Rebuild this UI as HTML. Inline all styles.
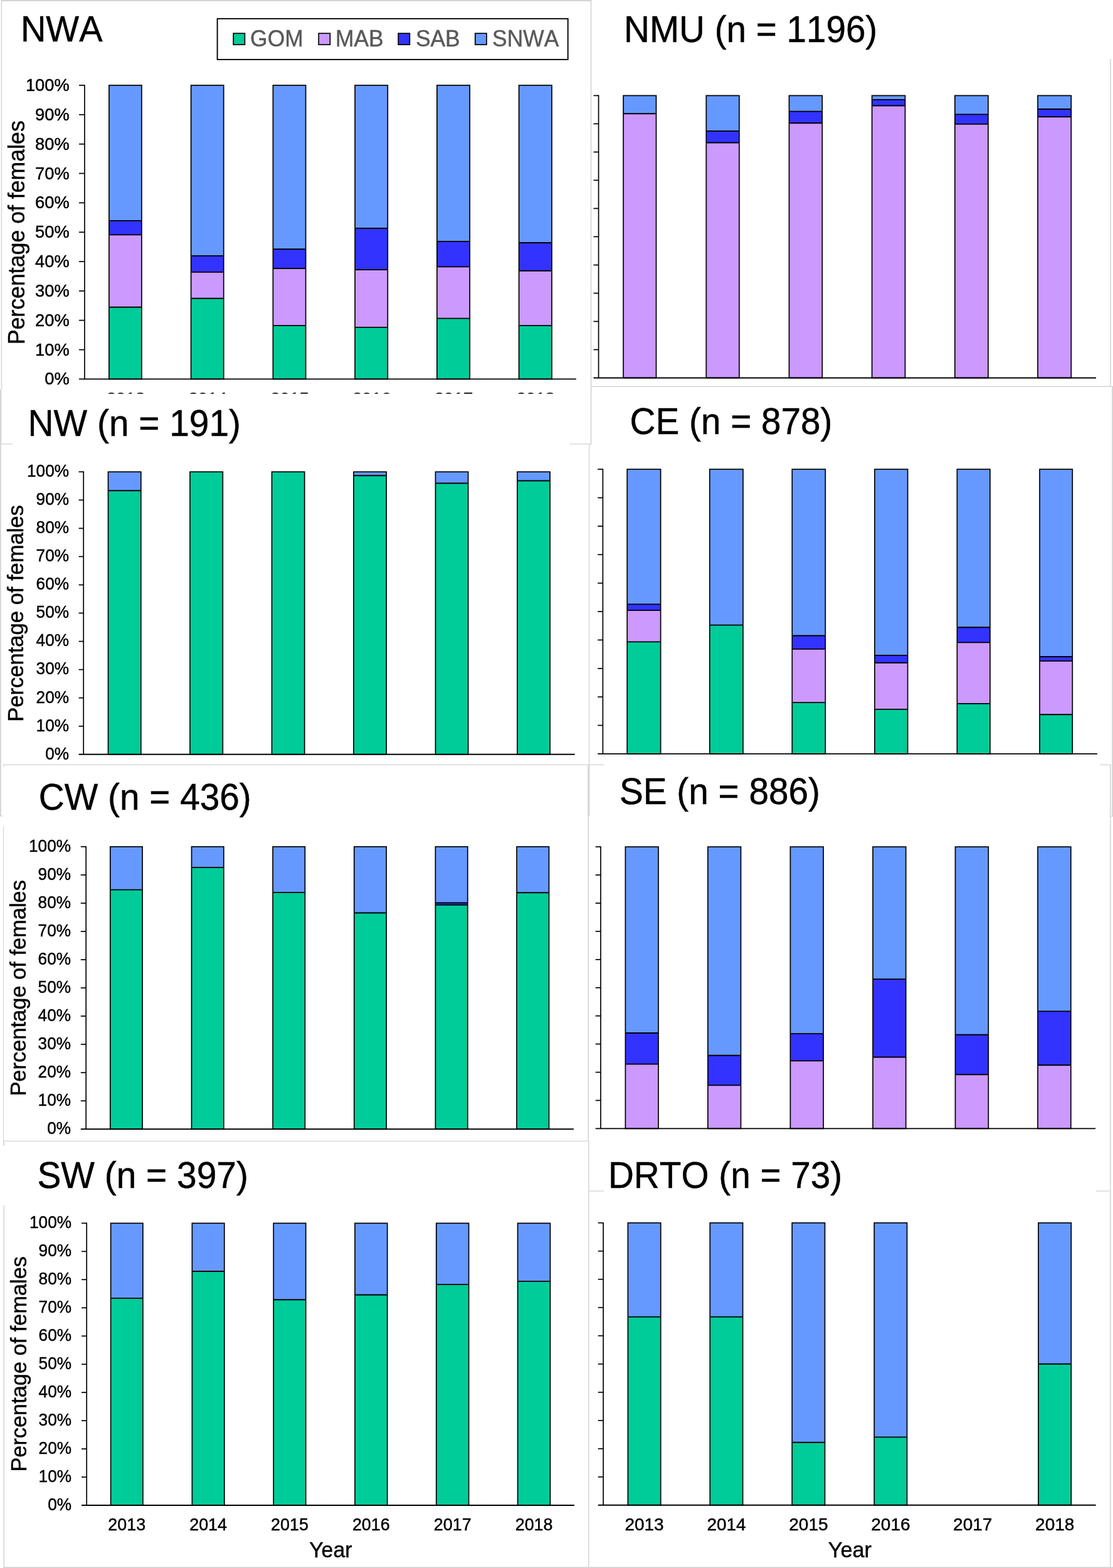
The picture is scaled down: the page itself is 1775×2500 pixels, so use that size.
<!DOCTYPE html>
<html lang="en">
<head>
<meta charset="utf-8">
<title>Percentage of females by region and year</title>
<style>
html,body{margin:0;padding:0;background:#fff;}
body{width:1775px;height:2500px;overflow:hidden;}
svg{display:block;}
text{font-family:"Liberation Sans", sans-serif;font-kerning:none;}
</style>
</head>
<body>
<svg width="1775" height="2500" viewBox="0 0 1775 2500" font-family='"Liberation Sans", sans-serif'>
<rect x="0" y="0" width="1775" height="2500" fill="#fff"/>
<line x1="1.70" y1="1.00" x2="943.40" y2="1.00" stroke="#d4d4d4" stroke-width="2.0"/>
<line x1="2.45" y1="0.50" x2="2.45" y2="621.00" stroke="#d4d4d4" stroke-width="1.5"/>
<line x1="1.15" y1="621.00" x2="1.15" y2="708.60" stroke="#d4d4d4" stroke-width="2.3"/>
<line x1="0.00" y1="708.00" x2="19.90" y2="708.00" stroke="#d4d4d4" stroke-width="1.3"/>
<line x1="942.60" y1="0.50" x2="942.60" y2="708.30" stroke="#d4d4d4" stroke-width="1.6"/>
<line x1="1771.00" y1="93.90" x2="1771.00" y2="616.30" stroke="#d4d4d4" stroke-width="1.6"/>
<line x1="942.60" y1="616.30" x2="1775.00" y2="616.30" stroke="#d4d4d4" stroke-width="1.4"/>
<line x1="1774.10" y1="616.30" x2="1774.10" y2="1301.50" stroke="#d4d4d4" stroke-width="1.8"/>
<line x1="1771.70" y1="1301.50" x2="1775.00" y2="1301.50" stroke="#d4d4d4" stroke-width="1.2"/>
<line x1="0.90" y1="708.60" x2="0.90" y2="1301.00" stroke="#d4d4d4" stroke-width="1.8"/>
<line x1="0.00" y1="1301.00" x2="4.50" y2="1301.00" stroke="#d4d4d4" stroke-width="1.2"/>
<line x1="908.40" y1="707.80" x2="943.30" y2="707.80" stroke="#d4d4d4" stroke-width="1.3"/>
<line x1="939.60" y1="707.80" x2="939.60" y2="1219.30" stroke="#d4d4d4" stroke-width="1.3"/>
<line x1="5.00" y1="1219.30" x2="963.50" y2="1219.30" stroke="#d4d4d4" stroke-width="1.3"/>
<line x1="5.60" y1="1219.30" x2="5.60" y2="1222.70" stroke="#d4d4d4" stroke-width="1.2"/>
<line x1="938.80" y1="1219.30" x2="938.80" y2="1301.70" stroke="#d4d4d4" stroke-width="3.0"/>
<line x1="938.20" y1="1301.70" x2="938.20" y2="1819.30" stroke="#d4d4d4" stroke-width="1.6"/>
<line x1="938.90" y1="1819.30" x2="938.90" y2="2499.00" stroke="#d4d4d4" stroke-width="1.5"/>
<line x1="1754.10" y1="1219.40" x2="1771.70" y2="1219.40" stroke="#d4d4d4" stroke-width="1.3"/>
<line x1="1770.90" y1="1219.40" x2="1770.90" y2="2499.00" stroke="#d4d4d4" stroke-width="1.6"/>
<line x1="5.55" y1="1317.60" x2="5.55" y2="1819.30" stroke="#d4d4d4" stroke-width="1.2"/>
<line x1="5.90" y1="1819.30" x2="5.90" y2="1826.40" stroke="#d4d4d4" stroke-width="1.8"/>
<line x1="5.00" y1="1819.30" x2="939.60" y2="1819.30" stroke="#d4d4d4" stroke-width="1.3"/>
<line x1="6.25" y1="1921.60" x2="6.25" y2="2499.00" stroke="#d4d4d4" stroke-width="1.5"/>
<line x1="5.50" y1="2499.20" x2="1775.00" y2="2499.20" stroke="#d4d4d4" stroke-width="1.7"/>
<line x1="938.90" y1="1899.00" x2="963.30" y2="1899.00" stroke="#d4d4d4" stroke-width="1.3"/>
<line x1="1748.00" y1="1899.00" x2="1771.60" y2="1899.00" stroke="#d4d4d4" stroke-width="1.3"/>
<clipPath id="c1"><rect x="0" y="620" width="943" height="8.0"/></clipPath>
<g clip-path="url(#c1)" opacity="0.8">
<text transform="translate(200.5,645.4) scale(1,1.02)" font-size="27.7" text-anchor="middle" fill="#000" stroke="#000" stroke-width="0.45">2013</text>
<text transform="translate(331.2,645.4) scale(1,1.02)" font-size="27.7" text-anchor="middle" fill="#000" stroke="#000" stroke-width="0.45">2014</text>
<text transform="translate(462.0,645.4) scale(1,1.02)" font-size="27.7" text-anchor="middle" fill="#000" stroke="#000" stroke-width="0.45">2015</text>
<text transform="translate(592.7,645.4) scale(1,1.02)" font-size="27.7" text-anchor="middle" fill="#000" stroke="#000" stroke-width="0.45">2016</text>
<text transform="translate(723.5,645.4) scale(1,1.02)" font-size="27.7" text-anchor="middle" fill="#000" stroke="#000" stroke-width="0.45">2017</text>
<text transform="translate(854.2,645.4) scale(1,1.02)" font-size="27.7" text-anchor="middle" fill="#000" stroke="#000" stroke-width="0.45">2018</text>
</g>
<g>
<rect x="173.9" y="489.7" width="52.0" height="114.7" fill="#00cc99"/>
<rect x="173.9" y="374.4" width="52.0" height="115.3" fill="#cc99ff"/>
<rect x="173.9" y="351.8" width="52.0" height="22.6" fill="#3333ff"/>
<rect x="173.9" y="136.0" width="52.0" height="215.8" fill="#6699ff"/>
<line x1="174.8" y1="489.7" x2="225.1" y2="489.7" stroke="#000" stroke-width="1.85"/>
<line x1="174.8" y1="374.4" x2="225.1" y2="374.4" stroke="#000" stroke-width="1.85"/>
<line x1="174.8" y1="351.8" x2="225.1" y2="351.8" stroke="#000" stroke-width="1.85"/>
<rect x="173.9" y="136.0" width="52.0" height="468.4" fill="none" stroke="#000" stroke-width="1.7"/>
<rect x="304.6" y="475.7" width="52.1" height="128.7" fill="#00cc99"/>
<rect x="304.6" y="433.8" width="52.1" height="41.9" fill="#cc99ff"/>
<rect x="304.6" y="407.9" width="52.1" height="25.9" fill="#3333ff"/>
<rect x="304.6" y="136.0" width="52.1" height="271.9" fill="#6699ff"/>
<line x1="305.5" y1="475.7" x2="355.8" y2="475.7" stroke="#000" stroke-width="1.85"/>
<line x1="305.5" y1="433.8" x2="355.8" y2="433.8" stroke="#000" stroke-width="1.85"/>
<line x1="305.5" y1="407.9" x2="355.8" y2="407.9" stroke="#000" stroke-width="1.85"/>
<rect x="304.6" y="136.0" width="52.1" height="468.4" fill="none" stroke="#000" stroke-width="1.7"/>
<rect x="435.4" y="519.1" width="52.2" height="85.3" fill="#00cc99"/>
<rect x="435.4" y="428.0" width="52.2" height="91.1" fill="#cc99ff"/>
<rect x="435.4" y="397.2" width="52.2" height="30.8" fill="#3333ff"/>
<rect x="435.4" y="136.0" width="52.2" height="261.2" fill="#6699ff"/>
<line x1="436.2" y1="519.1" x2="486.7" y2="519.1" stroke="#000" stroke-width="1.85"/>
<line x1="436.2" y1="428.0" x2="486.7" y2="428.0" stroke="#000" stroke-width="1.85"/>
<line x1="436.2" y1="397.2" x2="486.7" y2="397.2" stroke="#000" stroke-width="1.85"/>
<rect x="435.4" y="136.0" width="52.2" height="468.4" fill="none" stroke="#000" stroke-width="1.7"/>
<rect x="566.1" y="521.8" width="52.2" height="82.6" fill="#00cc99"/>
<rect x="566.1" y="430.0" width="52.2" height="91.8" fill="#cc99ff"/>
<rect x="566.1" y="364.0" width="52.2" height="66.0" fill="#3333ff"/>
<rect x="566.1" y="136.0" width="52.2" height="228.0" fill="#6699ff"/>
<line x1="567.0" y1="521.8" x2="617.5" y2="521.8" stroke="#000" stroke-width="1.85"/>
<line x1="567.0" y1="430.0" x2="617.5" y2="430.0" stroke="#000" stroke-width="1.85"/>
<line x1="567.0" y1="364.0" x2="617.5" y2="364.0" stroke="#000" stroke-width="1.85"/>
<rect x="566.1" y="136.0" width="52.2" height="468.4" fill="none" stroke="#000" stroke-width="1.7"/>
<rect x="696.9" y="507.6" width="52.3" height="96.8" fill="#00cc99"/>
<rect x="696.9" y="425.3" width="52.3" height="82.3" fill="#cc99ff"/>
<rect x="696.9" y="385.0" width="52.3" height="40.3" fill="#3333ff"/>
<rect x="696.9" y="136.0" width="52.3" height="249.0" fill="#6699ff"/>
<line x1="697.8" y1="507.6" x2="748.4" y2="507.6" stroke="#000" stroke-width="1.85"/>
<line x1="697.8" y1="425.3" x2="748.4" y2="425.3" stroke="#000" stroke-width="1.85"/>
<line x1="697.8" y1="385.0" x2="748.4" y2="385.0" stroke="#000" stroke-width="1.85"/>
<rect x="696.9" y="136.0" width="52.3" height="468.4" fill="none" stroke="#000" stroke-width="1.7"/>
<rect x="827.6" y="519.1" width="52.4" height="85.3" fill="#00cc99"/>
<rect x="827.6" y="431.7" width="52.4" height="87.4" fill="#cc99ff"/>
<rect x="827.6" y="387.0" width="52.4" height="44.7" fill="#3333ff"/>
<rect x="827.6" y="136.0" width="52.4" height="251.0" fill="#6699ff"/>
<line x1="828.5" y1="519.1" x2="879.1" y2="519.1" stroke="#000" stroke-width="1.85"/>
<line x1="828.5" y1="431.7" x2="879.1" y2="431.7" stroke="#000" stroke-width="1.85"/>
<line x1="828.5" y1="387.0" x2="879.1" y2="387.0" stroke="#000" stroke-width="1.85"/>
<rect x="827.6" y="136.0" width="52.4" height="468.4" fill="none" stroke="#000" stroke-width="1.7"/>
<line x1="134.9" y1="135.2" x2="134.9" y2="604.4" stroke="#000" stroke-width="1.7"/>
<line x1="126.0" y1="604.4" x2="918.9" y2="604.4" stroke="#000" stroke-width="1.9"/>
<text transform="translate(110.7,613.4) scale(1,1.02)" font-size="27.3" text-anchor="end" fill="#000" stroke="#000" stroke-width="0.45">0%</text>
<line x1="126.0" y1="557.6" x2="134.9" y2="557.6" stroke="#000" stroke-width="1.7"/>
<text transform="translate(110.7,566.6) scale(1,1.02)" font-size="27.3" text-anchor="end" fill="#000" stroke="#000" stroke-width="0.45">10%</text>
<line x1="126.0" y1="510.7" x2="134.9" y2="510.7" stroke="#000" stroke-width="1.7"/>
<text transform="translate(110.7,519.7) scale(1,1.02)" font-size="27.3" text-anchor="end" fill="#000" stroke="#000" stroke-width="0.45">20%</text>
<line x1="126.0" y1="463.9" x2="134.9" y2="463.9" stroke="#000" stroke-width="1.7"/>
<text transform="translate(110.7,472.9) scale(1,1.02)" font-size="27.3" text-anchor="end" fill="#000" stroke="#000" stroke-width="0.45">30%</text>
<line x1="126.0" y1="417.0" x2="134.9" y2="417.0" stroke="#000" stroke-width="1.7"/>
<text transform="translate(110.7,426.0) scale(1,1.02)" font-size="27.3" text-anchor="end" fill="#000" stroke="#000" stroke-width="0.45">40%</text>
<line x1="126.0" y1="370.2" x2="134.9" y2="370.2" stroke="#000" stroke-width="1.7"/>
<text transform="translate(110.7,379.2) scale(1,1.02)" font-size="27.3" text-anchor="end" fill="#000" stroke="#000" stroke-width="0.45">50%</text>
<line x1="126.0" y1="323.4" x2="134.9" y2="323.4" stroke="#000" stroke-width="1.7"/>
<text transform="translate(110.7,332.4) scale(1,1.02)" font-size="27.3" text-anchor="end" fill="#000" stroke="#000" stroke-width="0.45">60%</text>
<line x1="126.0" y1="276.5" x2="134.9" y2="276.5" stroke="#000" stroke-width="1.7"/>
<text transform="translate(110.7,285.5) scale(1,1.02)" font-size="27.3" text-anchor="end" fill="#000" stroke="#000" stroke-width="0.45">70%</text>
<line x1="126.0" y1="229.7" x2="134.9" y2="229.7" stroke="#000" stroke-width="1.7"/>
<text transform="translate(110.7,238.7) scale(1,1.02)" font-size="27.3" text-anchor="end" fill="#000" stroke="#000" stroke-width="0.45">80%</text>
<line x1="126.0" y1="182.8" x2="134.9" y2="182.8" stroke="#000" stroke-width="1.7"/>
<text transform="translate(110.7,191.8) scale(1,1.02)" font-size="27.3" text-anchor="end" fill="#000" stroke="#000" stroke-width="0.45">90%</text>
<line x1="126.0" y1="136.0" x2="134.9" y2="136.0" stroke="#000" stroke-width="1.7"/>
<text transform="translate(110.7,145.0) scale(1,1.02)" font-size="27.3" text-anchor="end" fill="#000" stroke="#000" stroke-width="0.45">100%</text>
<text transform="translate(39.2,549.3) rotate(-90) scale(1,1.02)" font-size="35.7" text-anchor="start" fill="#000" stroke="#000" stroke-width="0.45">Percentage of females</text>
<text transform="translate(32.9,66.2) scale(1,1.036)" font-size="56.0" text-anchor="start" fill="#000" stroke="#000" stroke-width="0.45">NWA</text>
</g>
<g>
<rect x="994.1" y="181.2" width="52.4" height="421.3" fill="#cc99ff"/>
<rect x="994.1" y="152.4" width="52.4" height="28.8" fill="#6699ff"/>
<line x1="995.0" y1="181.2" x2="1045.7" y2="181.2" stroke="#000" stroke-width="1.85"/>
<rect x="994.1" y="152.4" width="52.4" height="450.1" fill="none" stroke="#000" stroke-width="1.7"/>
<rect x="1126.3" y="227.5" width="52.6" height="375.0" fill="#cc99ff"/>
<rect x="1126.3" y="208.9" width="52.6" height="18.6" fill="#3333ff"/>
<rect x="1126.3" y="152.4" width="52.6" height="56.5" fill="#6699ff"/>
<line x1="1127.1" y1="227.5" x2="1178.0" y2="227.5" stroke="#000" stroke-width="1.85"/>
<line x1="1127.1" y1="208.9" x2="1178.0" y2="208.9" stroke="#000" stroke-width="1.85"/>
<rect x="1126.3" y="152.4" width="52.6" height="450.1" fill="none" stroke="#000" stroke-width="1.7"/>
<rect x="1258.5" y="196.2" width="52.8" height="406.3" fill="#cc99ff"/>
<rect x="1258.5" y="177.6" width="52.8" height="18.6" fill="#3333ff"/>
<rect x="1258.5" y="152.4" width="52.8" height="25.2" fill="#6699ff"/>
<line x1="1259.3" y1="196.2" x2="1310.4" y2="196.2" stroke="#000" stroke-width="1.85"/>
<line x1="1259.3" y1="177.6" x2="1310.4" y2="177.6" stroke="#000" stroke-width="1.85"/>
<rect x="1258.5" y="152.4" width="52.8" height="450.1" fill="none" stroke="#000" stroke-width="1.7"/>
<rect x="1390.6" y="168.5" width="52.9" height="434.0" fill="#cc99ff"/>
<rect x="1390.6" y="158.8" width="52.9" height="9.7" fill="#3333ff"/>
<rect x="1390.6" y="152.4" width="52.9" height="6.4" fill="#6699ff"/>
<line x1="1391.4" y1="168.5" x2="1442.7" y2="168.5" stroke="#000" stroke-width="1.85"/>
<line x1="1391.4" y1="158.8" x2="1442.7" y2="158.8" stroke="#000" stroke-width="1.85"/>
<rect x="1390.6" y="152.4" width="52.9" height="450.1" fill="none" stroke="#000" stroke-width="1.7"/>
<rect x="1522.8" y="197.9" width="53.1" height="404.6" fill="#cc99ff"/>
<rect x="1522.8" y="182.3" width="53.1" height="15.6" fill="#3333ff"/>
<rect x="1522.8" y="152.4" width="53.1" height="29.9" fill="#6699ff"/>
<line x1="1523.6" y1="197.9" x2="1575.1" y2="197.9" stroke="#000" stroke-width="1.85"/>
<line x1="1523.6" y1="182.3" x2="1575.1" y2="182.3" stroke="#000" stroke-width="1.85"/>
<rect x="1522.8" y="152.4" width="53.1" height="450.1" fill="none" stroke="#000" stroke-width="1.7"/>
<rect x="1655.0" y="186.2" width="53.3" height="416.3" fill="#cc99ff"/>
<rect x="1655.0" y="174.0" width="53.3" height="12.2" fill="#3333ff"/>
<rect x="1655.0" y="152.4" width="53.3" height="21.6" fill="#6699ff"/>
<line x1="1655.8" y1="186.2" x2="1707.5" y2="186.2" stroke="#000" stroke-width="1.85"/>
<line x1="1655.8" y1="174.0" x2="1707.5" y2="174.0" stroke="#000" stroke-width="1.85"/>
<rect x="1655.0" y="152.4" width="53.3" height="450.1" fill="none" stroke="#000" stroke-width="1.7"/>
<line x1="954.6" y1="151.6" x2="954.6" y2="602.5" stroke="#000" stroke-width="1.7"/>
<line x1="946.5" y1="602.5" x2="1748.0" y2="602.5" stroke="#000" stroke-width="1.9"/>
<line x1="946.5" y1="557.5" x2="954.6" y2="557.5" stroke="#000" stroke-width="1.7"/>
<line x1="946.5" y1="512.5" x2="954.6" y2="512.5" stroke="#000" stroke-width="1.7"/>
<line x1="946.5" y1="467.5" x2="954.6" y2="467.5" stroke="#000" stroke-width="1.7"/>
<line x1="946.5" y1="422.5" x2="954.6" y2="422.5" stroke="#000" stroke-width="1.7"/>
<line x1="946.5" y1="377.4" x2="954.6" y2="377.4" stroke="#000" stroke-width="1.7"/>
<line x1="946.5" y1="332.4" x2="954.6" y2="332.4" stroke="#000" stroke-width="1.7"/>
<line x1="946.5" y1="287.4" x2="954.6" y2="287.4" stroke="#000" stroke-width="1.7"/>
<line x1="946.5" y1="242.4" x2="954.6" y2="242.4" stroke="#000" stroke-width="1.7"/>
<line x1="946.5" y1="197.4" x2="954.6" y2="197.4" stroke="#000" stroke-width="1.7"/>
<line x1="946.5" y1="152.4" x2="954.6" y2="152.4" stroke="#000" stroke-width="1.7"/>
<text transform="translate(995.1,67.0) scale(1,1.036)" font-size="56.6" text-anchor="start" fill="#000" stroke="#000" stroke-width="0.45">NMU (n = 1196)</text>
</g>
<g>
<rect x="172.5" y="782.2" width="52.3" height="420.6" fill="#00cc99"/>
<rect x="172.5" y="752.3" width="52.3" height="29.9" fill="#6699ff"/>
<line x1="173.3" y1="782.2" x2="224.0" y2="782.2" stroke="#000" stroke-width="1.85"/>
<rect x="172.5" y="752.3" width="52.3" height="450.5" fill="none" stroke="#000" stroke-width="1.7"/>
<rect x="303.0" y="752.3" width="52.3" height="450.5" fill="#00cc99"/>
<rect x="303.0" y="752.3" width="52.3" height="450.5" fill="none" stroke="#000" stroke-width="1.7"/>
<rect x="433.5" y="752.3" width="52.2" height="450.5" fill="#00cc99"/>
<rect x="433.5" y="752.3" width="52.2" height="450.5" fill="none" stroke="#000" stroke-width="1.7"/>
<rect x="564.0" y="758.2" width="52.2" height="444.6" fill="#00cc99"/>
<rect x="564.0" y="752.3" width="52.2" height="5.9" fill="#6699ff"/>
<line x1="564.9" y1="758.2" x2="615.3" y2="758.2" stroke="#000" stroke-width="1.85"/>
<rect x="564.0" y="752.3" width="52.2" height="450.5" fill="none" stroke="#000" stroke-width="1.7"/>
<rect x="694.5" y="770.5" width="52.1" height="432.3" fill="#00cc99"/>
<rect x="694.5" y="752.3" width="52.1" height="18.2" fill="#6699ff"/>
<line x1="695.4" y1="770.5" x2="745.8" y2="770.5" stroke="#000" stroke-width="1.85"/>
<rect x="694.5" y="752.3" width="52.1" height="450.5" fill="none" stroke="#000" stroke-width="1.7"/>
<rect x="825.0" y="766.5" width="52.1" height="436.3" fill="#00cc99"/>
<rect x="825.0" y="752.3" width="52.1" height="14.2" fill="#6699ff"/>
<line x1="825.9" y1="766.5" x2="876.2" y2="766.5" stroke="#000" stroke-width="1.85"/>
<rect x="825.0" y="752.3" width="52.1" height="450.5" fill="none" stroke="#000" stroke-width="1.7"/>
<line x1="133.2" y1="751.5" x2="133.2" y2="1202.8" stroke="#000" stroke-width="1.7"/>
<line x1="125.6" y1="1202.8" x2="916.7" y2="1202.8" stroke="#000" stroke-width="1.9"/>
<text transform="translate(110.0,1210.6) scale(1,1.02)" font-size="26.2" text-anchor="end" fill="#000" stroke="#000" stroke-width="0.45">0%</text>
<line x1="125.6" y1="1157.8" x2="133.2" y2="1157.8" stroke="#000" stroke-width="1.7"/>
<text transform="translate(110.0,1165.5) scale(1,1.02)" font-size="26.2" text-anchor="end" fill="#000" stroke="#000" stroke-width="0.45">10%</text>
<line x1="125.6" y1="1112.7" x2="133.2" y2="1112.7" stroke="#000" stroke-width="1.7"/>
<text transform="translate(110.0,1120.5) scale(1,1.02)" font-size="26.2" text-anchor="end" fill="#000" stroke="#000" stroke-width="0.45">20%</text>
<line x1="125.6" y1="1067.6" x2="133.2" y2="1067.6" stroke="#000" stroke-width="1.7"/>
<text transform="translate(110.0,1075.4) scale(1,1.02)" font-size="26.2" text-anchor="end" fill="#000" stroke="#000" stroke-width="0.45">30%</text>
<line x1="125.6" y1="1022.6" x2="133.2" y2="1022.6" stroke="#000" stroke-width="1.7"/>
<text transform="translate(110.0,1030.4) scale(1,1.02)" font-size="26.2" text-anchor="end" fill="#000" stroke="#000" stroke-width="0.45">40%</text>
<line x1="125.6" y1="977.5" x2="133.2" y2="977.5" stroke="#000" stroke-width="1.7"/>
<text transform="translate(110.0,985.3) scale(1,1.02)" font-size="26.2" text-anchor="end" fill="#000" stroke="#000" stroke-width="0.45">50%</text>
<line x1="125.6" y1="932.5" x2="133.2" y2="932.5" stroke="#000" stroke-width="1.7"/>
<text transform="translate(110.0,940.3) scale(1,1.02)" font-size="26.2" text-anchor="end" fill="#000" stroke="#000" stroke-width="0.45">60%</text>
<line x1="125.6" y1="887.4" x2="133.2" y2="887.4" stroke="#000" stroke-width="1.7"/>
<text transform="translate(110.0,895.2) scale(1,1.02)" font-size="26.2" text-anchor="end" fill="#000" stroke="#000" stroke-width="0.45">70%</text>
<line x1="125.6" y1="842.4" x2="133.2" y2="842.4" stroke="#000" stroke-width="1.7"/>
<text transform="translate(110.0,850.2) scale(1,1.02)" font-size="26.2" text-anchor="end" fill="#000" stroke="#000" stroke-width="0.45">80%</text>
<line x1="125.6" y1="797.3" x2="133.2" y2="797.3" stroke="#000" stroke-width="1.7"/>
<text transform="translate(110.0,805.1) scale(1,1.02)" font-size="26.2" text-anchor="end" fill="#000" stroke="#000" stroke-width="0.45">90%</text>
<line x1="125.6" y1="752.3" x2="133.2" y2="752.3" stroke="#000" stroke-width="1.7"/>
<text transform="translate(110.0,760.1) scale(1,1.02)" font-size="26.2" text-anchor="end" fill="#000" stroke="#000" stroke-width="0.45">100%</text>
<text transform="translate(37.2,1150.7) rotate(-90) scale(1,1.02)" font-size="34.55" text-anchor="start" fill="#000" stroke="#000" stroke-width="0.45">Percentage of females</text>
<text transform="translate(44.6,695.0) scale(1,1.036)" font-size="56.8" text-anchor="start" fill="#000" stroke="#000" stroke-width="0.45">NW (n = 191)</text>
</g>
<g>
<rect x="1000.2" y="1023.3" width="53.4" height="178.6" fill="#00cc99"/>
<rect x="1000.2" y="973.1" width="53.4" height="50.2" fill="#cc99ff"/>
<rect x="1000.2" y="963.4" width="53.4" height="9.7" fill="#3333ff"/>
<rect x="1000.2" y="748.2" width="53.4" height="215.2" fill="#6699ff"/>
<line x1="1001.1" y1="1023.3" x2="1052.8" y2="1023.3" stroke="#000" stroke-width="1.85"/>
<line x1="1001.1" y1="973.1" x2="1052.8" y2="973.1" stroke="#000" stroke-width="1.85"/>
<line x1="1001.1" y1="963.4" x2="1052.8" y2="963.4" stroke="#000" stroke-width="1.85"/>
<rect x="1000.2" y="748.2" width="53.4" height="453.7" fill="none" stroke="#000" stroke-width="1.7"/>
<rect x="1131.8" y="996.6" width="53.2" height="205.3" fill="#00cc99"/>
<rect x="1131.8" y="748.2" width="53.2" height="248.4" fill="#6699ff"/>
<line x1="1132.6" y1="996.6" x2="1184.1" y2="996.6" stroke="#000" stroke-width="1.85"/>
<rect x="1131.8" y="748.2" width="53.2" height="453.7" fill="none" stroke="#000" stroke-width="1.7"/>
<rect x="1263.3" y="1120.1" width="53.0" height="81.8" fill="#00cc99"/>
<rect x="1263.3" y="1034.8" width="53.0" height="85.3" fill="#cc99ff"/>
<rect x="1263.3" y="1013.5" width="53.0" height="21.3" fill="#3333ff"/>
<rect x="1263.3" y="748.2" width="53.0" height="265.3" fill="#6699ff"/>
<line x1="1264.1" y1="1120.1" x2="1315.4" y2="1120.1" stroke="#000" stroke-width="1.85"/>
<line x1="1264.1" y1="1034.8" x2="1315.4" y2="1034.8" stroke="#000" stroke-width="1.85"/>
<line x1="1264.1" y1="1013.5" x2="1315.4" y2="1013.5" stroke="#000" stroke-width="1.85"/>
<rect x="1263.3" y="748.2" width="53.0" height="453.7" fill="none" stroke="#000" stroke-width="1.7"/>
<rect x="1394.9" y="1130.9" width="52.7" height="71.0" fill="#00cc99"/>
<rect x="1394.9" y="1056.7" width="52.7" height="74.2" fill="#cc99ff"/>
<rect x="1394.9" y="1044.8" width="52.7" height="11.9" fill="#3333ff"/>
<rect x="1394.9" y="748.2" width="52.7" height="296.6" fill="#6699ff"/>
<line x1="1395.8" y1="1130.9" x2="1446.8" y2="1130.9" stroke="#000" stroke-width="1.85"/>
<line x1="1395.8" y1="1056.7" x2="1446.8" y2="1056.7" stroke="#000" stroke-width="1.85"/>
<line x1="1395.8" y1="1044.8" x2="1446.8" y2="1044.8" stroke="#000" stroke-width="1.85"/>
<rect x="1394.9" y="748.2" width="52.7" height="453.7" fill="none" stroke="#000" stroke-width="1.7"/>
<rect x="1526.4" y="1121.8" width="52.5" height="80.1" fill="#00cc99"/>
<rect x="1526.4" y="1024.3" width="52.5" height="97.5" fill="#cc99ff"/>
<rect x="1526.4" y="1000.2" width="52.5" height="24.1" fill="#3333ff"/>
<rect x="1526.4" y="748.2" width="52.5" height="252.0" fill="#6699ff"/>
<line x1="1527.2" y1="1121.8" x2="1578.1" y2="1121.8" stroke="#000" stroke-width="1.85"/>
<line x1="1527.2" y1="1024.3" x2="1578.1" y2="1024.3" stroke="#000" stroke-width="1.85"/>
<line x1="1527.2" y1="1000.2" x2="1578.1" y2="1000.2" stroke="#000" stroke-width="1.85"/>
<rect x="1526.4" y="748.2" width="52.5" height="453.7" fill="none" stroke="#000" stroke-width="1.7"/>
<rect x="1658.0" y="1139.2" width="52.3" height="62.7" fill="#00cc99"/>
<rect x="1658.0" y="1053.9" width="52.3" height="85.3" fill="#cc99ff"/>
<rect x="1658.0" y="1047.0" width="52.3" height="6.9" fill="#3333ff"/>
<rect x="1658.0" y="748.2" width="52.3" height="298.8" fill="#6699ff"/>
<line x1="1658.8" y1="1139.2" x2="1709.5" y2="1139.2" stroke="#000" stroke-width="1.85"/>
<line x1="1658.8" y1="1053.9" x2="1709.5" y2="1053.9" stroke="#000" stroke-width="1.85"/>
<line x1="1658.8" y1="1047.0" x2="1709.5" y2="1047.0" stroke="#000" stroke-width="1.85"/>
<rect x="1658.0" y="748.2" width="52.3" height="453.7" fill="none" stroke="#000" stroke-width="1.7"/>
<line x1="961.4" y1="747.4" x2="961.4" y2="1201.9" stroke="#000" stroke-width="1.7"/>
<line x1="953.2" y1="1201.9" x2="1749.9" y2="1201.9" stroke="#000" stroke-width="1.9"/>
<line x1="953.2" y1="1156.5" x2="961.4" y2="1156.5" stroke="#000" stroke-width="1.7"/>
<line x1="953.2" y1="1111.2" x2="961.4" y2="1111.2" stroke="#000" stroke-width="1.7"/>
<line x1="953.2" y1="1065.8" x2="961.4" y2="1065.8" stroke="#000" stroke-width="1.7"/>
<line x1="953.2" y1="1020.4" x2="961.4" y2="1020.4" stroke="#000" stroke-width="1.7"/>
<line x1="953.2" y1="975.1" x2="961.4" y2="975.1" stroke="#000" stroke-width="1.7"/>
<line x1="953.2" y1="929.7" x2="961.4" y2="929.7" stroke="#000" stroke-width="1.7"/>
<line x1="953.2" y1="884.3" x2="961.4" y2="884.3" stroke="#000" stroke-width="1.7"/>
<line x1="953.2" y1="838.9" x2="961.4" y2="838.9" stroke="#000" stroke-width="1.7"/>
<line x1="953.2" y1="793.6" x2="961.4" y2="793.6" stroke="#000" stroke-width="1.7"/>
<line x1="953.2" y1="748.2" x2="961.4" y2="748.2" stroke="#000" stroke-width="1.7"/>
<text transform="translate(1004.5,692.4) scale(1,1.036)" font-size="56.7" text-anchor="start" fill="#000" stroke="#000" stroke-width="0.45">CE (n = 878)</text>
</g>
<g>
<rect x="175.8" y="1418.6" width="51.3" height="381.6" fill="#00cc99"/>
<rect x="175.8" y="1350.0" width="51.3" height="68.6" fill="#6699ff"/>
<line x1="176.7" y1="1418.6" x2="226.3" y2="1418.6" stroke="#000" stroke-width="1.85"/>
<rect x="175.8" y="1350.0" width="51.3" height="450.2" fill="none" stroke="#000" stroke-width="1.7"/>
<rect x="305.5" y="1383.1" width="51.3" height="417.1" fill="#00cc99"/>
<rect x="305.5" y="1350.0" width="51.3" height="33.1" fill="#6699ff"/>
<line x1="306.4" y1="1383.1" x2="356.0" y2="1383.1" stroke="#000" stroke-width="1.85"/>
<rect x="305.5" y="1350.0" width="51.3" height="450.2" fill="none" stroke="#000" stroke-width="1.7"/>
<rect x="435.1" y="1422.8" width="51.3" height="377.4" fill="#00cc99"/>
<rect x="435.1" y="1350.0" width="51.3" height="72.8" fill="#6699ff"/>
<line x1="436.0" y1="1422.8" x2="485.6" y2="1422.8" stroke="#000" stroke-width="1.85"/>
<rect x="435.1" y="1350.0" width="51.3" height="450.2" fill="none" stroke="#000" stroke-width="1.7"/>
<rect x="564.8" y="1455.5" width="51.4" height="344.7" fill="#00cc99"/>
<rect x="564.8" y="1350.0" width="51.4" height="105.5" fill="#6699ff"/>
<line x1="565.6" y1="1455.5" x2="615.3" y2="1455.5" stroke="#000" stroke-width="1.85"/>
<rect x="564.8" y="1350.0" width="51.4" height="450.2" fill="none" stroke="#000" stroke-width="1.7"/>
<rect x="694.4" y="1442.9" width="51.4" height="357.3" fill="#00cc99"/>
<rect x="694.4" y="1439.5" width="51.4" height="3.4" fill="#3333ff"/>
<rect x="694.4" y="1350.0" width="51.4" height="89.5" fill="#6699ff"/>
<line x1="695.2" y1="1442.9" x2="744.9" y2="1442.9" stroke="#000" stroke-width="1.85"/>
<line x1="695.2" y1="1439.5" x2="744.9" y2="1439.5" stroke="#000" stroke-width="1.85"/>
<rect x="694.4" y="1350.0" width="51.4" height="450.2" fill="none" stroke="#000" stroke-width="1.7"/>
<rect x="824.1" y="1423.2" width="51.4" height="377.0" fill="#00cc99"/>
<rect x="824.1" y="1350.0" width="51.4" height="73.2" fill="#6699ff"/>
<line x1="825.0" y1="1423.2" x2="874.6" y2="1423.2" stroke="#000" stroke-width="1.85"/>
<rect x="824.1" y="1350.0" width="51.4" height="450.2" fill="none" stroke="#000" stroke-width="1.7"/>
<line x1="137.2" y1="1349.2" x2="137.2" y2="1800.2" stroke="#000" stroke-width="1.7"/>
<line x1="128.8" y1="1800.2" x2="914.9" y2="1800.2" stroke="#000" stroke-width="1.9"/>
<text transform="translate(113.0,1808.0) scale(1,1.02)" font-size="26.2" text-anchor="end" fill="#000" stroke="#000" stroke-width="0.45">0%</text>
<line x1="128.8" y1="1755.2" x2="137.2" y2="1755.2" stroke="#000" stroke-width="1.7"/>
<text transform="translate(113.0,1763.0) scale(1,1.02)" font-size="26.2" text-anchor="end" fill="#000" stroke="#000" stroke-width="0.45">10%</text>
<line x1="128.8" y1="1710.2" x2="137.2" y2="1710.2" stroke="#000" stroke-width="1.7"/>
<text transform="translate(113.0,1718.0) scale(1,1.02)" font-size="26.2" text-anchor="end" fill="#000" stroke="#000" stroke-width="0.45">20%</text>
<line x1="128.8" y1="1665.1" x2="137.2" y2="1665.1" stroke="#000" stroke-width="1.7"/>
<text transform="translate(113.0,1672.9) scale(1,1.02)" font-size="26.2" text-anchor="end" fill="#000" stroke="#000" stroke-width="0.45">30%</text>
<line x1="128.8" y1="1620.1" x2="137.2" y2="1620.1" stroke="#000" stroke-width="1.7"/>
<text transform="translate(113.0,1627.9) scale(1,1.02)" font-size="26.2" text-anchor="end" fill="#000" stroke="#000" stroke-width="0.45">40%</text>
<line x1="128.8" y1="1575.1" x2="137.2" y2="1575.1" stroke="#000" stroke-width="1.7"/>
<text transform="translate(113.0,1582.9) scale(1,1.02)" font-size="26.2" text-anchor="end" fill="#000" stroke="#000" stroke-width="0.45">50%</text>
<line x1="128.8" y1="1530.1" x2="137.2" y2="1530.1" stroke="#000" stroke-width="1.7"/>
<text transform="translate(113.0,1537.9) scale(1,1.02)" font-size="26.2" text-anchor="end" fill="#000" stroke="#000" stroke-width="0.45">60%</text>
<line x1="128.8" y1="1485.1" x2="137.2" y2="1485.1" stroke="#000" stroke-width="1.7"/>
<text transform="translate(113.0,1492.9) scale(1,1.02)" font-size="26.2" text-anchor="end" fill="#000" stroke="#000" stroke-width="0.45">70%</text>
<line x1="128.8" y1="1440.0" x2="137.2" y2="1440.0" stroke="#000" stroke-width="1.7"/>
<text transform="translate(113.0,1447.8) scale(1,1.02)" font-size="26.2" text-anchor="end" fill="#000" stroke="#000" stroke-width="0.45">80%</text>
<line x1="128.8" y1="1395.0" x2="137.2" y2="1395.0" stroke="#000" stroke-width="1.7"/>
<text transform="translate(113.0,1402.8) scale(1,1.02)" font-size="26.2" text-anchor="end" fill="#000" stroke="#000" stroke-width="0.45">90%</text>
<line x1="128.8" y1="1350.0" x2="137.2" y2="1350.0" stroke="#000" stroke-width="1.7"/>
<text transform="translate(113.0,1357.8) scale(1,1.02)" font-size="26.2" text-anchor="end" fill="#000" stroke="#000" stroke-width="0.45">100%</text>
<text transform="translate(41.0,1747.6) rotate(-90) scale(1,1.02)" font-size="34.45" text-anchor="start" fill="#000" stroke="#000" stroke-width="0.45">Percentage of females</text>
<text transform="translate(61.8,1291.0) scale(1,1.036)" font-size="56.75" text-anchor="start" fill="#000" stroke="#000" stroke-width="0.45">CW (n = 436)</text>
</g>
<g>
<rect x="997.4" y="1696.6" width="52.6" height="102.8" fill="#cc99ff"/>
<rect x="997.4" y="1647.0" width="52.6" height="49.6" fill="#3333ff"/>
<rect x="997.4" y="1350.2" width="52.6" height="296.8" fill="#6699ff"/>
<line x1="998.2" y1="1696.6" x2="1049.2" y2="1696.6" stroke="#000" stroke-width="1.85"/>
<line x1="998.2" y1="1647.0" x2="1049.2" y2="1647.0" stroke="#000" stroke-width="1.85"/>
<rect x="997.4" y="1350.2" width="52.6" height="449.2" fill="none" stroke="#000" stroke-width="1.7"/>
<rect x="1128.9" y="1730.4" width="52.6" height="69.0" fill="#cc99ff"/>
<rect x="1128.9" y="1682.7" width="52.6" height="47.7" fill="#3333ff"/>
<rect x="1128.9" y="1350.2" width="52.6" height="332.5" fill="#6699ff"/>
<line x1="1129.8" y1="1730.4" x2="1180.7" y2="1730.4" stroke="#000" stroke-width="1.85"/>
<line x1="1129.8" y1="1682.7" x2="1180.7" y2="1682.7" stroke="#000" stroke-width="1.85"/>
<rect x="1128.9" y="1350.2" width="52.6" height="449.2" fill="none" stroke="#000" stroke-width="1.7"/>
<rect x="1260.4" y="1691.3" width="52.7" height="108.1" fill="#cc99ff"/>
<rect x="1260.4" y="1648.1" width="52.7" height="43.2" fill="#3333ff"/>
<rect x="1260.4" y="1350.2" width="52.7" height="297.9" fill="#6699ff"/>
<line x1="1261.2" y1="1691.3" x2="1312.2" y2="1691.3" stroke="#000" stroke-width="1.85"/>
<line x1="1261.2" y1="1648.1" x2="1312.2" y2="1648.1" stroke="#000" stroke-width="1.85"/>
<rect x="1260.4" y="1350.2" width="52.7" height="449.2" fill="none" stroke="#000" stroke-width="1.7"/>
<rect x="1392.0" y="1685.5" width="52.7" height="113.9" fill="#cc99ff"/>
<rect x="1392.0" y="1561.1" width="52.7" height="124.4" fill="#3333ff"/>
<rect x="1392.0" y="1350.2" width="52.7" height="210.9" fill="#6699ff"/>
<line x1="1392.8" y1="1685.5" x2="1443.9" y2="1685.5" stroke="#000" stroke-width="1.85"/>
<line x1="1392.8" y1="1561.1" x2="1443.9" y2="1561.1" stroke="#000" stroke-width="1.85"/>
<rect x="1392.0" y="1350.2" width="52.7" height="449.2" fill="none" stroke="#000" stroke-width="1.7"/>
<rect x="1523.5" y="1713.2" width="52.8" height="86.2" fill="#cc99ff"/>
<rect x="1523.5" y="1649.7" width="52.8" height="63.5" fill="#3333ff"/>
<rect x="1523.5" y="1350.2" width="52.8" height="299.5" fill="#6699ff"/>
<line x1="1524.3" y1="1713.2" x2="1575.4" y2="1713.2" stroke="#000" stroke-width="1.85"/>
<line x1="1524.3" y1="1649.7" x2="1575.4" y2="1649.7" stroke="#000" stroke-width="1.85"/>
<rect x="1523.5" y="1350.2" width="52.8" height="449.2" fill="none" stroke="#000" stroke-width="1.7"/>
<rect x="1655.0" y="1698.2" width="52.8" height="101.2" fill="#cc99ff"/>
<rect x="1655.0" y="1612.3" width="52.8" height="85.9" fill="#3333ff"/>
<rect x="1655.0" y="1350.2" width="52.8" height="262.1" fill="#6699ff"/>
<line x1="1655.8" y1="1698.2" x2="1707.0" y2="1698.2" stroke="#000" stroke-width="1.85"/>
<line x1="1655.8" y1="1612.3" x2="1707.0" y2="1612.3" stroke="#000" stroke-width="1.85"/>
<rect x="1655.0" y="1350.2" width="52.8" height="449.2" fill="none" stroke="#000" stroke-width="1.7"/>
<line x1="958.0" y1="1349.4" x2="958.0" y2="1799.4" stroke="#000" stroke-width="1.7"/>
<line x1="949.7" y1="1799.4" x2="1747.2" y2="1799.4" stroke="#000" stroke-width="1.9"/>
<line x1="949.7" y1="1754.5" x2="958.0" y2="1754.5" stroke="#000" stroke-width="1.7"/>
<line x1="949.7" y1="1709.6" x2="958.0" y2="1709.6" stroke="#000" stroke-width="1.7"/>
<line x1="949.7" y1="1664.6" x2="958.0" y2="1664.6" stroke="#000" stroke-width="1.7"/>
<line x1="949.7" y1="1619.7" x2="958.0" y2="1619.7" stroke="#000" stroke-width="1.7"/>
<line x1="949.7" y1="1574.8" x2="958.0" y2="1574.8" stroke="#000" stroke-width="1.7"/>
<line x1="949.7" y1="1529.9" x2="958.0" y2="1529.9" stroke="#000" stroke-width="1.7"/>
<line x1="949.7" y1="1485.0" x2="958.0" y2="1485.0" stroke="#000" stroke-width="1.7"/>
<line x1="949.7" y1="1440.0" x2="958.0" y2="1440.0" stroke="#000" stroke-width="1.7"/>
<line x1="949.7" y1="1395.1" x2="958.0" y2="1395.1" stroke="#000" stroke-width="1.7"/>
<line x1="949.7" y1="1350.2" x2="958.0" y2="1350.2" stroke="#000" stroke-width="1.7"/>
<text transform="translate(988.0,1281.5) scale(1,1.036)" font-size="56.7" text-anchor="start" fill="#000" stroke="#000" stroke-width="0.45">SE (n = 886)</text>
</g>
<g>
<rect x="176.6" y="2069.8" width="51.3" height="330.2" fill="#00cc99"/>
<rect x="176.6" y="1950.3" width="51.3" height="119.5" fill="#6699ff"/>
<line x1="177.4" y1="2069.8" x2="227.0" y2="2069.8" stroke="#000" stroke-width="1.85"/>
<rect x="176.6" y="1950.3" width="51.3" height="449.7" fill="none" stroke="#000" stroke-width="1.7"/>
<rect x="306.4" y="2027.0" width="51.4" height="373.0" fill="#00cc99"/>
<rect x="306.4" y="1950.3" width="51.4" height="76.7" fill="#6699ff"/>
<line x1="307.2" y1="2027.0" x2="357.0" y2="2027.0" stroke="#000" stroke-width="1.85"/>
<rect x="306.4" y="1950.3" width="51.4" height="449.7" fill="none" stroke="#000" stroke-width="1.7"/>
<rect x="436.2" y="2072.2" width="51.5" height="327.8" fill="#00cc99"/>
<rect x="436.2" y="1950.3" width="51.5" height="121.9" fill="#6699ff"/>
<line x1="437.1" y1="2072.2" x2="486.9" y2="2072.2" stroke="#000" stroke-width="1.85"/>
<rect x="436.2" y="1950.3" width="51.5" height="449.7" fill="none" stroke="#000" stroke-width="1.7"/>
<rect x="566.0" y="2064.5" width="51.7" height="335.5" fill="#00cc99"/>
<rect x="566.0" y="1950.3" width="51.7" height="114.2" fill="#6699ff"/>
<line x1="566.9" y1="2064.5" x2="616.8" y2="2064.5" stroke="#000" stroke-width="1.85"/>
<rect x="566.0" y="1950.3" width="51.7" height="449.7" fill="none" stroke="#000" stroke-width="1.7"/>
<rect x="695.8" y="2047.8" width="51.8" height="352.2" fill="#00cc99"/>
<rect x="695.8" y="1950.3" width="51.8" height="97.5" fill="#6699ff"/>
<line x1="696.6" y1="2047.8" x2="746.7" y2="2047.8" stroke="#000" stroke-width="1.85"/>
<rect x="695.8" y="1950.3" width="51.8" height="449.7" fill="none" stroke="#000" stroke-width="1.7"/>
<rect x="825.6" y="2042.9" width="51.9" height="357.1" fill="#00cc99"/>
<rect x="825.6" y="1950.3" width="51.9" height="92.6" fill="#6699ff"/>
<line x1="826.5" y1="2042.9" x2="876.6" y2="2042.9" stroke="#000" stroke-width="1.85"/>
<rect x="825.6" y="1950.3" width="51.9" height="449.7" fill="none" stroke="#000" stroke-width="1.7"/>
<line x1="138.2" y1="1949.5" x2="138.2" y2="2400.0" stroke="#000" stroke-width="1.7"/>
<line x1="130.0" y1="2400.0" x2="916.0" y2="2400.0" stroke="#000" stroke-width="1.9"/>
<text transform="translate(114.0,2407.8) scale(1,1.02)" font-size="26.2" text-anchor="end" fill="#000" stroke="#000" stroke-width="0.45">0%</text>
<line x1="130.0" y1="2355.0" x2="138.2" y2="2355.0" stroke="#000" stroke-width="1.7"/>
<text transform="translate(114.0,2362.8) scale(1,1.02)" font-size="26.2" text-anchor="end" fill="#000" stroke="#000" stroke-width="0.45">10%</text>
<line x1="130.0" y1="2310.1" x2="138.2" y2="2310.1" stroke="#000" stroke-width="1.7"/>
<text transform="translate(114.0,2317.9) scale(1,1.02)" font-size="26.2" text-anchor="end" fill="#000" stroke="#000" stroke-width="0.45">20%</text>
<line x1="130.0" y1="2265.1" x2="138.2" y2="2265.1" stroke="#000" stroke-width="1.7"/>
<text transform="translate(114.0,2272.9) scale(1,1.02)" font-size="26.2" text-anchor="end" fill="#000" stroke="#000" stroke-width="0.45">30%</text>
<line x1="130.0" y1="2220.1" x2="138.2" y2="2220.1" stroke="#000" stroke-width="1.7"/>
<text transform="translate(114.0,2227.9) scale(1,1.02)" font-size="26.2" text-anchor="end" fill="#000" stroke="#000" stroke-width="0.45">40%</text>
<line x1="130.0" y1="2175.2" x2="138.2" y2="2175.2" stroke="#000" stroke-width="1.7"/>
<text transform="translate(114.0,2183.0) scale(1,1.02)" font-size="26.2" text-anchor="end" fill="#000" stroke="#000" stroke-width="0.45">50%</text>
<line x1="130.0" y1="2130.2" x2="138.2" y2="2130.2" stroke="#000" stroke-width="1.7"/>
<text transform="translate(114.0,2138.0) scale(1,1.02)" font-size="26.2" text-anchor="end" fill="#000" stroke="#000" stroke-width="0.45">60%</text>
<line x1="130.0" y1="2085.2" x2="138.2" y2="2085.2" stroke="#000" stroke-width="1.7"/>
<text transform="translate(114.0,2093.0) scale(1,1.02)" font-size="26.2" text-anchor="end" fill="#000" stroke="#000" stroke-width="0.45">70%</text>
<line x1="130.0" y1="2040.2" x2="138.2" y2="2040.2" stroke="#000" stroke-width="1.7"/>
<text transform="translate(114.0,2048.0) scale(1,1.02)" font-size="26.2" text-anchor="end" fill="#000" stroke="#000" stroke-width="0.45">80%</text>
<line x1="130.0" y1="1995.3" x2="138.2" y2="1995.3" stroke="#000" stroke-width="1.7"/>
<text transform="translate(114.0,2003.1) scale(1,1.02)" font-size="26.2" text-anchor="end" fill="#000" stroke="#000" stroke-width="0.45">90%</text>
<line x1="130.0" y1="1950.3" x2="138.2" y2="1950.3" stroke="#000" stroke-width="1.7"/>
<text transform="translate(114.0,1958.1) scale(1,1.02)" font-size="26.2" text-anchor="end" fill="#000" stroke="#000" stroke-width="0.45">100%</text>
<text transform="translate(41.6,2346.6) rotate(-90) scale(1,1.02)" font-size="34.35" text-anchor="start" fill="#000" stroke="#000" stroke-width="0.45">Percentage of females</text>
<text transform="translate(59.4,1894.0) scale(1,1.036)" font-size="56.85" text-anchor="start" fill="#000" stroke="#000" stroke-width="0.45">SW (n = 397)</text>
<text transform="translate(202.2,2439.7) scale(1,1.02)" font-size="26.9" text-anchor="middle" fill="#000" stroke="#000" stroke-width="0.45">2013</text>
<text transform="translate(332.1,2439.7) scale(1,1.02)" font-size="26.9" text-anchor="middle" fill="#000" stroke="#000" stroke-width="0.45">2014</text>
<text transform="translate(462.0,2439.7) scale(1,1.02)" font-size="26.9" text-anchor="middle" fill="#000" stroke="#000" stroke-width="0.45">2015</text>
<text transform="translate(591.8,2439.7) scale(1,1.02)" font-size="26.9" text-anchor="middle" fill="#000" stroke="#000" stroke-width="0.45">2016</text>
<text transform="translate(721.7,2439.7) scale(1,1.02)" font-size="26.9" text-anchor="middle" fill="#000" stroke="#000" stroke-width="0.45">2017</text>
<text transform="translate(851.6,2439.7) scale(1,1.02)" font-size="26.9" text-anchor="middle" fill="#000" stroke="#000" stroke-width="0.45">2018</text>
<text transform="translate(527.3,2483.0) scale(1,1.02)" font-size="33.8" text-anchor="middle" fill="#000" stroke="#000" stroke-width="0.45" style="font-kerning:normal">Year</text>
</g>
<g>
<rect x="1001.4" y="2099.6" width="52.3" height="300.2" fill="#00cc99"/>
<rect x="1001.4" y="1949.7" width="52.3" height="149.9" fill="#6699ff"/>
<line x1="1002.2" y1="2099.6" x2="1052.9" y2="2099.6" stroke="#000" stroke-width="1.85"/>
<rect x="1001.4" y="1949.7" width="52.3" height="450.1" fill="none" stroke="#000" stroke-width="1.7"/>
<rect x="1132.3" y="2099.6" width="52.3" height="300.2" fill="#00cc99"/>
<rect x="1132.3" y="1949.7" width="52.3" height="149.9" fill="#6699ff"/>
<line x1="1133.1" y1="2099.6" x2="1183.8" y2="2099.6" stroke="#000" stroke-width="1.85"/>
<rect x="1132.3" y="1949.7" width="52.3" height="450.1" fill="none" stroke="#000" stroke-width="1.7"/>
<rect x="1263.2" y="2299.7" width="52.3" height="100.1" fill="#00cc99"/>
<rect x="1263.2" y="1949.7" width="52.3" height="350.0" fill="#6699ff"/>
<line x1="1264.0" y1="2299.7" x2="1314.7" y2="2299.7" stroke="#000" stroke-width="1.85"/>
<rect x="1263.2" y="1949.7" width="52.3" height="450.1" fill="none" stroke="#000" stroke-width="1.7"/>
<rect x="1394.2" y="2291.4" width="52.3" height="108.4" fill="#00cc99"/>
<rect x="1394.2" y="1949.7" width="52.3" height="341.7" fill="#6699ff"/>
<line x1="1395.0" y1="2291.4" x2="1445.7" y2="2291.4" stroke="#000" stroke-width="1.85"/>
<rect x="1394.2" y="1949.7" width="52.3" height="450.1" fill="none" stroke="#000" stroke-width="1.7"/>
<rect x="1656.0" y="2174.7" width="52.3" height="225.1" fill="#00cc99"/>
<rect x="1656.0" y="1949.7" width="52.3" height="225.0" fill="#6699ff"/>
<line x1="1656.8" y1="2174.7" x2="1707.5" y2="2174.7" stroke="#000" stroke-width="1.85"/>
<rect x="1656.0" y="1949.7" width="52.3" height="450.1" fill="none" stroke="#000" stroke-width="1.7"/>
<line x1="962.1" y1="1948.9" x2="962.1" y2="2399.8" stroke="#000" stroke-width="1.7"/>
<line x1="953.8" y1="2399.8" x2="1747.7" y2="2399.8" stroke="#000" stroke-width="1.9"/>
<line x1="953.8" y1="2354.8" x2="962.1" y2="2354.8" stroke="#000" stroke-width="1.7"/>
<line x1="953.8" y1="2309.8" x2="962.1" y2="2309.8" stroke="#000" stroke-width="1.7"/>
<line x1="953.8" y1="2264.8" x2="962.1" y2="2264.8" stroke="#000" stroke-width="1.7"/>
<line x1="953.8" y1="2219.8" x2="962.1" y2="2219.8" stroke="#000" stroke-width="1.7"/>
<line x1="953.8" y1="2174.8" x2="962.1" y2="2174.8" stroke="#000" stroke-width="1.7"/>
<line x1="953.8" y1="2129.7" x2="962.1" y2="2129.7" stroke="#000" stroke-width="1.7"/>
<line x1="953.8" y1="2084.7" x2="962.1" y2="2084.7" stroke="#000" stroke-width="1.7"/>
<line x1="953.8" y1="2039.7" x2="962.1" y2="2039.7" stroke="#000" stroke-width="1.7"/>
<line x1="953.8" y1="1994.7" x2="962.1" y2="1994.7" stroke="#000" stroke-width="1.7"/>
<line x1="953.8" y1="1949.7" x2="962.1" y2="1949.7" stroke="#000" stroke-width="1.7"/>
<text transform="translate(969.9,1893.9) scale(1,1.036)" font-size="56.7" text-anchor="start" fill="#000" stroke="#000" stroke-width="0.45">DRTO (n = 73)</text>
<text transform="translate(1027.5,2440.4) scale(1,1.02)" font-size="28.0" text-anchor="middle" fill="#000" stroke="#000" stroke-width="0.45">2013</text>
<text transform="translate(1158.5,2440.4) scale(1,1.02)" font-size="28.0" text-anchor="middle" fill="#000" stroke="#000" stroke-width="0.45">2014</text>
<text transform="translate(1289.4,2440.4) scale(1,1.02)" font-size="28.0" text-anchor="middle" fill="#000" stroke="#000" stroke-width="0.45">2015</text>
<text transform="translate(1420.4,2440.4) scale(1,1.02)" font-size="28.0" text-anchor="middle" fill="#000" stroke="#000" stroke-width="0.45">2016</text>
<text transform="translate(1551.2,2440.4) scale(1,1.02)" font-size="28.0" text-anchor="middle" fill="#000" stroke="#000" stroke-width="0.45">2017</text>
<text transform="translate(1682.2,2440.4) scale(1,1.02)" font-size="28.0" text-anchor="middle" fill="#000" stroke="#000" stroke-width="0.45">2018</text>
<text transform="translate(1355.4,2482.8) scale(1,1.02)" font-size="34.3" text-anchor="middle" fill="#000" stroke="#000" stroke-width="0.45" style="font-kerning:normal">Year</text>
</g>
<g>
<rect x="346.6" y="29.8" width="559.1" height="65.1" fill="#fff" stroke="#000" stroke-width="1.9"/>
<rect x="372.2" y="53.2" width="18.2" height="18.0" fill="#00cc99" stroke="#000" stroke-width="1.7"/>
<text transform="translate(399.1,74.0) scale(1,1.02)" font-size="35.4" text-anchor="start" fill="#595959" stroke="#595959" stroke-width="0.45">GOM</text>
<rect x="508.2" y="53.2" width="18.2" height="18.0" fill="#cc99ff" stroke="#000" stroke-width="1.7"/>
<text transform="translate(534.9,74.0) scale(1,1.02)" font-size="35.4" text-anchor="start" fill="#595959" stroke="#595959" stroke-width="0.45">MAB</text>
<rect x="635.2" y="53.2" width="18.2" height="18.0" fill="#3333ff" stroke="#000" stroke-width="1.7"/>
<text transform="translate(662.9,74.0) scale(1,1.02)" font-size="35.4" text-anchor="start" fill="#595959" stroke="#595959" stroke-width="0.45">SAB</text>
<rect x="757.8" y="53.2" width="18.2" height="18.0" fill="#6699ff" stroke="#000" stroke-width="1.7"/>
<text transform="translate(785.1,74.0) scale(1,1.02)" font-size="35.4" text-anchor="start" fill="#595959" stroke="#595959" stroke-width="0.45">SNWA</text>
</g>
</svg>
</body>
</html>
